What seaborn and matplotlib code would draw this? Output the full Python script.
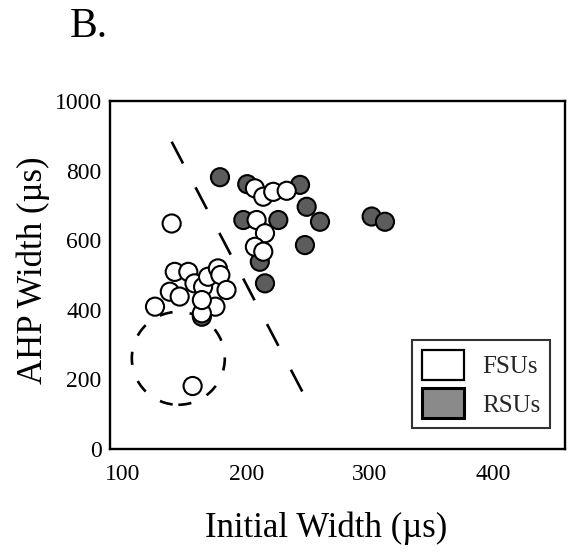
import matplotlib
matplotlib.use("Agg")
import matplotlib.pyplot as plt
from matplotlib.patches import Ellipse, Patch
import numpy as np
import pandas as pd
import seaborn as sns

# Fast-spiking units (open circles)
fsu_initial = [126, 138, 142, 153, 146, 158, 165, 169, 177, 179, 184, 175, 164,
               164, 139.5, 156.5,
               207, 213.8, 221.9, 232.8, 208.4, 215.2, 207, 213.8]
fsu_ahp = [409, 452, 509, 509, 438, 476, 466, 495, 519, 500, 457, 409, 390,
           428, 648, 181,
           749, 725, 739, 742, 658, 620, 581, 567]

# Regular-spiking units (shaded circles)
rsu_initial = [164, 178.7, 200.8, 243.6, 249, 259.8, 247.6, 197.6, 226,
               211, 215.2, 301.7, 312.5]
rsu_ahp = [380, 781, 761, 759, 696, 653, 586, 658, 658,
           538, 476, 668, 653]

# Dashed boundary between the two populations
boundary_initial = [139.5, 246.2]
boundary_ahp = [883, 160]

# Dashed outline around the outlying fast-spiking unit
outline_center = (144.9, 260.6)
outline_size = (75.4, 267.0)

x_ticks = [100, 200, 300, 400]
y_ticks = [0, 200, 400, 600, 800, 1000]

sns.set_theme(style="white")
plt.rcParams["font.family"] = ["Liberation Serif", "DejaVu Serif"]

df = pd.DataFrame({
    "initial": rsu_initial + fsu_initial,
    "ahp": rsu_ahp + fsu_ahp,
    "unit": ["RSUs"] * len(rsu_initial) + ["FSUs"] * len(fsu_initial),
})

fig = plt.figure(figsize=(5.73, 5.56), dpi=100, facecolor="white")
ax = fig.add_axes([110 / 573, (556 - 449) / 556, 455 / 573, 348 / 556])

fsu_color = "white"
rsu_color = "#5c5c5c"

sns.scatterplot(data=df, x="initial", y="ahp", hue="unit",
                palette={"FSUs": fsu_color, "RSUs": rsu_color},
                s=170, edgecolor="black", linewidth=1.5, legend=False,
                ax=ax, zorder=3)

ax.plot(boundary_initial, boundary_ahp, color="black", lw=1.9,
        linestyle=(0, (9.3, 10.2)), zorder=2)
ax.add_patch(Ellipse(outline_center, outline_size[0], outline_size[1],
                     fill=False, edgecolor="black", lw=1.9,
                     linestyle=(0, (5, 6.5)), zorder=2))

ax.set_xlim(89.5, 458.5)
ax.set_ylim(0, 1000)
ax.set_xticks(x_ticks)
ax.set_yticks(y_ticks)
ax.tick_params(axis="both", length=0, labelsize=17, colors="black")
ax.tick_params(axis="x", pad=11)
ax.tick_params(axis="y", pad=6)

for sp in ax.spines.values():
    sp.set_visible(True)
    sp.set_color("black")
    sp.set_linewidth(1.7)

ax.set_xlabel("Initial Width (\u00b5s)", fontsize=25, color="black")
ax.set_ylabel("AHP Width (\u00b5s)", fontsize=25, color="black")
ax.xaxis.set_label_coords(0.475, -0.18)
ax.yaxis.set_label_coords(-0.132, 0.514)

handles = [Patch(facecolor=fsu_color, edgecolor="black", linewidth=1.6, label="FSUs"),
           Patch(facecolor="#8a8a8a", edgecolor="black", linewidth=2.2, label="RSUs")]
leg = ax.legend(handles=handles, loc="lower right", bbox_to_anchor=(0.967, 0.06),
                borderaxespad=0, fontsize=18, handlelength=1.7, handleheight=1.45,
                handletextpad=0.7, labelspacing=0.35, borderpad=0.4,
                frameon=True, fancybox=False, edgecolor="black")
leg.get_frame().set_linewidth(1.5)

fig.text(70 / 573, 1 - 37 / 556, "B.", fontsize=30, va="baseline", ha="left",
         color="black")

fig.savefig("out.png", dpi=100, facecolor="white")
